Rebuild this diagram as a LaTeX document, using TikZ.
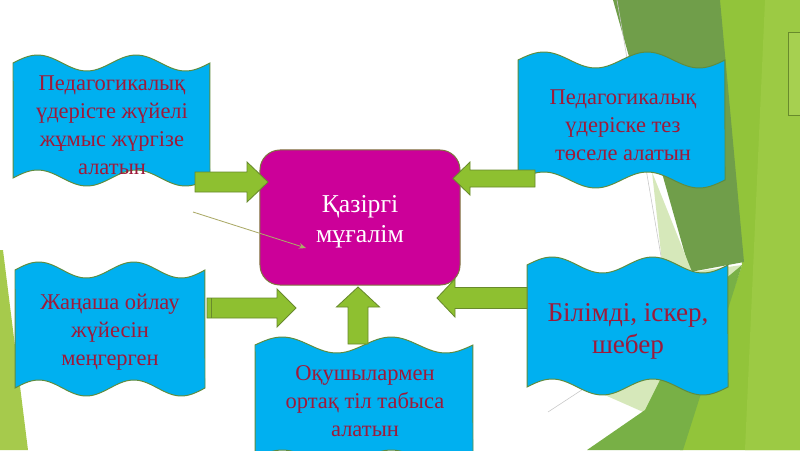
\documentclass[tikz,border=0pt]{standalone}
\usepackage{fontspec}
\setmainfont{Liberation Serif}
\usetikzlibrary{arrows.meta}
\definecolor{boxblue}{RGB}{0,176,240}
\definecolor{boxedge}{RGB}{96,140,62}
\definecolor{txtred}{RGB}{158,26,58}
\definecolor{magbox}{RGB}{204,0,153}
\definecolor{magedge}{RGB}{128,118,62}
\definecolor{arrfill}{RGB}{142,192,48}
\definecolor{arredge}{RGB}{104,138,44}
\definecolor{bgdark}{RGB}{112,158,74}
\definecolor{bgmed}{RGB}{120,176,70}
\definecolor{bglime}{RGB}{146,196,58}
\definecolor{bglime2}{RGB}{156,202,68}
\definecolor{bgtag}{RGB}{166,208,80}
\definecolor{bgpale}{RGB}{214,232,186}
\definecolor{bgleft}{RGB}{166,202,76}
\definecolor{thinline}{RGB}{172,170,104}
\tikzset{
  wavestyle/.style={fill=boxblue,draw=boxedge,line width=0.7pt},
  blockarr/.style={fill=arrfill,draw=arredge,line width=0.6pt,line join=miter},
  boxtext/.style={text=txtred,align=center,font=\fontsize{16}{20}\selectfont,inner sep=0pt},
  bigtext/.style={text=txtred,align=center,font=\fontsize{19.3}{22.8}\selectfont,inner sep=0pt},
  centerbox/.style={fill=magbox,draw=magedge,line width=0.7pt,rounded corners=0.5cm,
    minimum width=5cm,minimum height=3.375cm,inner sep=0pt},
  centertext/.style={text=white,align=center,font=\fontsize{18.3}{21.3}\selectfont,inner sep=0pt},
  thinarrow/.style={draw=thinline,line width=0.6pt,-{Stealth[length=5pt,width=4pt]}},
  faint/.style={draw=black!22,line width=0.4pt}
}
% x0 x1 ytop ybot amp
\newcommand{\mywave}[5]{%
  \path[wavestyle] plot[domain=0:1,samples=61,variable=\t] ({#1+(#2-#1)*\t},{#3-#5*sin(720*\t)})
    -- plot[domain=1:0,samples=61,variable=\t] ({#1+(#2-#1)*\t},{#4-#5*sin(720*\t)}) -- cycle;}
% horizontal block arrow: x0 (tail) x1 (head base) x2 (tip) c s h
\newcommand{\myharrow}[6]{%
  \path[blockarr] (#1,#4-#5) -- (#2,#4-#5) -- (#2,#4-#6) -- (#3,#4) -- (#2,#4+#6) -- (#2,#4+#5) -- (#1,#4+#5) -- cycle;}
% vertical block arrow: y0 (tail) y1 (head base) y2 (tip) c s h
\newcommand{\myvarrow}[6]{%
  \path[blockarr] (#4-#5,#1) -- (#4-#5,#2) -- (#4-#6,#2) -- (#4,#3) -- (#4+#6,#2) -- (#4+#5,#2) -- (#4+#5,#1) -- cycle;}
\begin{document}
\begin{tikzpicture}[x=0.025cm,y=-0.025cm]
\useasboundingbox (0,0) rectangle (800,450);
\fill[white] (0,0) rectangle (800,450);
% background facets
\fill[bgleft] (0,250) -- (3,250) -- (28,450) -- (0,450) -- cycle;
\fill[bglime] (718,0) -- (800,0) -- (800,450) -- (680,450) -- (742,265) -- cycle;
\fill[bglime2] (765,0) -- (800,0) -- (800,450) -- (745,450) -- cycle;
\fill[bgdark] (613,0) -- (720,0) -- (744,262) -- (690,272) -- cycle;
\fill[bgpale] (652,172) -- (692,272) -- (742,265) -- (650,415) -- (598,392) -- (662,262) -- cycle;
\fill[bgmed] (587,450) -- (683,450) -- (742,265) -- (700,300) -- (645,410) -- cycle;
\draw[faint] (617,0) -- (662,262);
\draw[faint] (548,412) -- (600,378);
\node[fill=bgtag,draw=arredge,line width=0.6pt,minimum width=0.35cm,minimum height=2.075cm,inner sep=0pt,anchor=north west] (tag) at (788,32) {};
% wave boxes
\mywave{13}{210}{63}{178}{8}
\mywave{518}{725}{60}{180}{8}
\mywave{15}{205}{270}{388}{8}
\mywave{527}{728}{265}{387}{8}
\mywave{255}{473}{345}{458}{8}
% centre box
\node[centerbox] (c) at (360,217.5) {};
\node[centertext] (ct) at (360,222) {Қазіргі\\мұғалім};
% texts
\node[boxtext] (b1) at (112,125) {Педагогикалық\\үдерісте жүйелі\\жұмыс жүргізе\\алатын};
\node[boxtext] (b2) at (623,125) {Педагогикалық\\үдеріске тез\\төселе алатын};
\node[boxtext] (b3) at (110,332) {Жаңаша ойлау\\жүйесін\\меңгерген};
\node[bigtext] (b4) at (628,331) {Білімді, іскер,\\шебер};
\node[boxtext] (b5) at (365,401) {Оқушылармен\\ортақ тіл табыса\\алатын};
% block arrows
\myharrow{195}{247}{268}{182}{10}{20}
\myharrow{535}{470}{453}{178.5}{8.5}{16.5}
\myharrow{207}{277}{296}{308}{10}{19}
\draw[arredge,line width=0.6pt] (211,298) -- (211,318);
\myvarrow{344}{307}{287}{358}{10}{21.5}
\myharrow{527}{455}{437}{298}{10.5}{19}
% thin arrow
\coordinate (p1) at (193,212);
\coordinate (p2) at (306,248);
\draw[thinarrow] (p1) -- (p2);
\end{tikzpicture}
\end{document}
